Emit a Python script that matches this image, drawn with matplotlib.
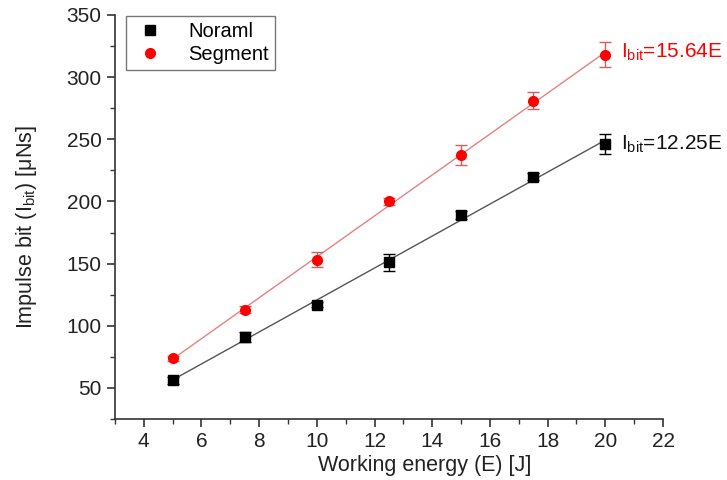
import numpy as np
import matplotlib
matplotlib.use("Agg")
import matplotlib.pyplot as plt
from matplotlib.ticker import MultipleLocator
from matplotlib.lines import Line2D

plt.rcParams['font.family'] = ['Liberation Sans', 'DejaVu Sans']
plt.rcParams['mathtext.fontset'] = 'custom'
plt.rcParams['mathtext.rm'] = 'Liberation Sans'
plt.rcParams['mathtext.it'] = 'Liberation Sans'

energy = [5, 7.5, 10, 12.5, 15, 17.5, 20]
normal = [56, 91, 117, 151, 189, 220, 246]
normal_err = [3, 4, 2, 7, 3, 3, 8]
segment = [74, 113, 153, 200, 237, 281, 318]
segment_err = [2, 3, 6, 3, 8, 7, 10]

fig = plt.figure(figsize=(7.27, 4.8), dpi=100)
ax = fig.add_axes([0.158, 0.127, 0.754, 0.842])

x = np.array(energy)
handles = []
for y, e, col, mk, lab, lcol, ecol in [(normal, normal_err, 'black', 's', 'Noraml', '#555555', 'black'),
                                       (segment, segment_err, 'red', 'o', 'Segment', '#e88080', '#d06060')]:
    p = np.polyfit(x, y, 1)
    ax.plot(x, np.polyval(p, x), color=lcol, lw=1.0, zorder=1)
    ax.errorbar(x, y, yerr=e, fmt=mk, color=col, ecolor=ecol,
                elinewidth=1, capsize=4, capthick=1, markersize=7, zorder=3)
    handles.append(Line2D([], [], ls='none', marker=mk, color=col, markersize=7, label=lab))

ax.text(20.55, 320, r'I$_{\mathregular{bit}}$=15.64E', color='red', fontsize=15, va='center')
ax.text(20.55, 246, r'I$_{\mathregular{bit}}$=12.25E', color='#111111', fontsize=15, va='center')

ax.set_xlim(3, 22)
ax.set_ylim(25, 350)
ax.xaxis.set_minor_locator(MultipleLocator(1))
ax.yaxis.set_minor_locator(MultipleLocator(25))
ax.set_xticks(np.arange(4, 23, 2))
ax.set_yticks(np.arange(50, 351, 50))
ax.spines['top'].set_visible(False)
ax.spines['right'].set_visible(False)
for s in ['left', 'bottom']:
    ax.spines[s].set_linewidth(1.2)
    ax.spines[s].set_color('#333333')
ax.tick_params(which='major', direction='out', length=6, width=1.2, labelsize=15, colors='#333333', labelcolor='#222222')
ax.tick_params(which='minor', direction='out', length=3.5, width=1.0, colors='#333333')

ax.set_xlabel('Working energy (E) [J]', fontsize=15.5, color='#222222', va='center')
ax.xaxis.set_label_coords(0.566, -0.114)
ax.set_ylabel(r'Impulse bit (I$_{\mathregular{bit}}$) [μNs]', fontsize=15.5, color='#222222', va='center')
ax.yaxis.set_label_coords(-0.162, 0.475)

leg = ax.legend(handles=handles, loc='upper left', bbox_to_anchor=(0.018, 1.0), fontsize=14.5, frameon=True,
                fancybox=False, edgecolor='#555555', handletextpad=1.0, borderpad=0.3,
                labelspacing=0.2, handlelength=1.8, borderaxespad=0.05)
leg.get_frame().set_linewidth(1.0)

fig.savefig('out.png', dpi=100)
